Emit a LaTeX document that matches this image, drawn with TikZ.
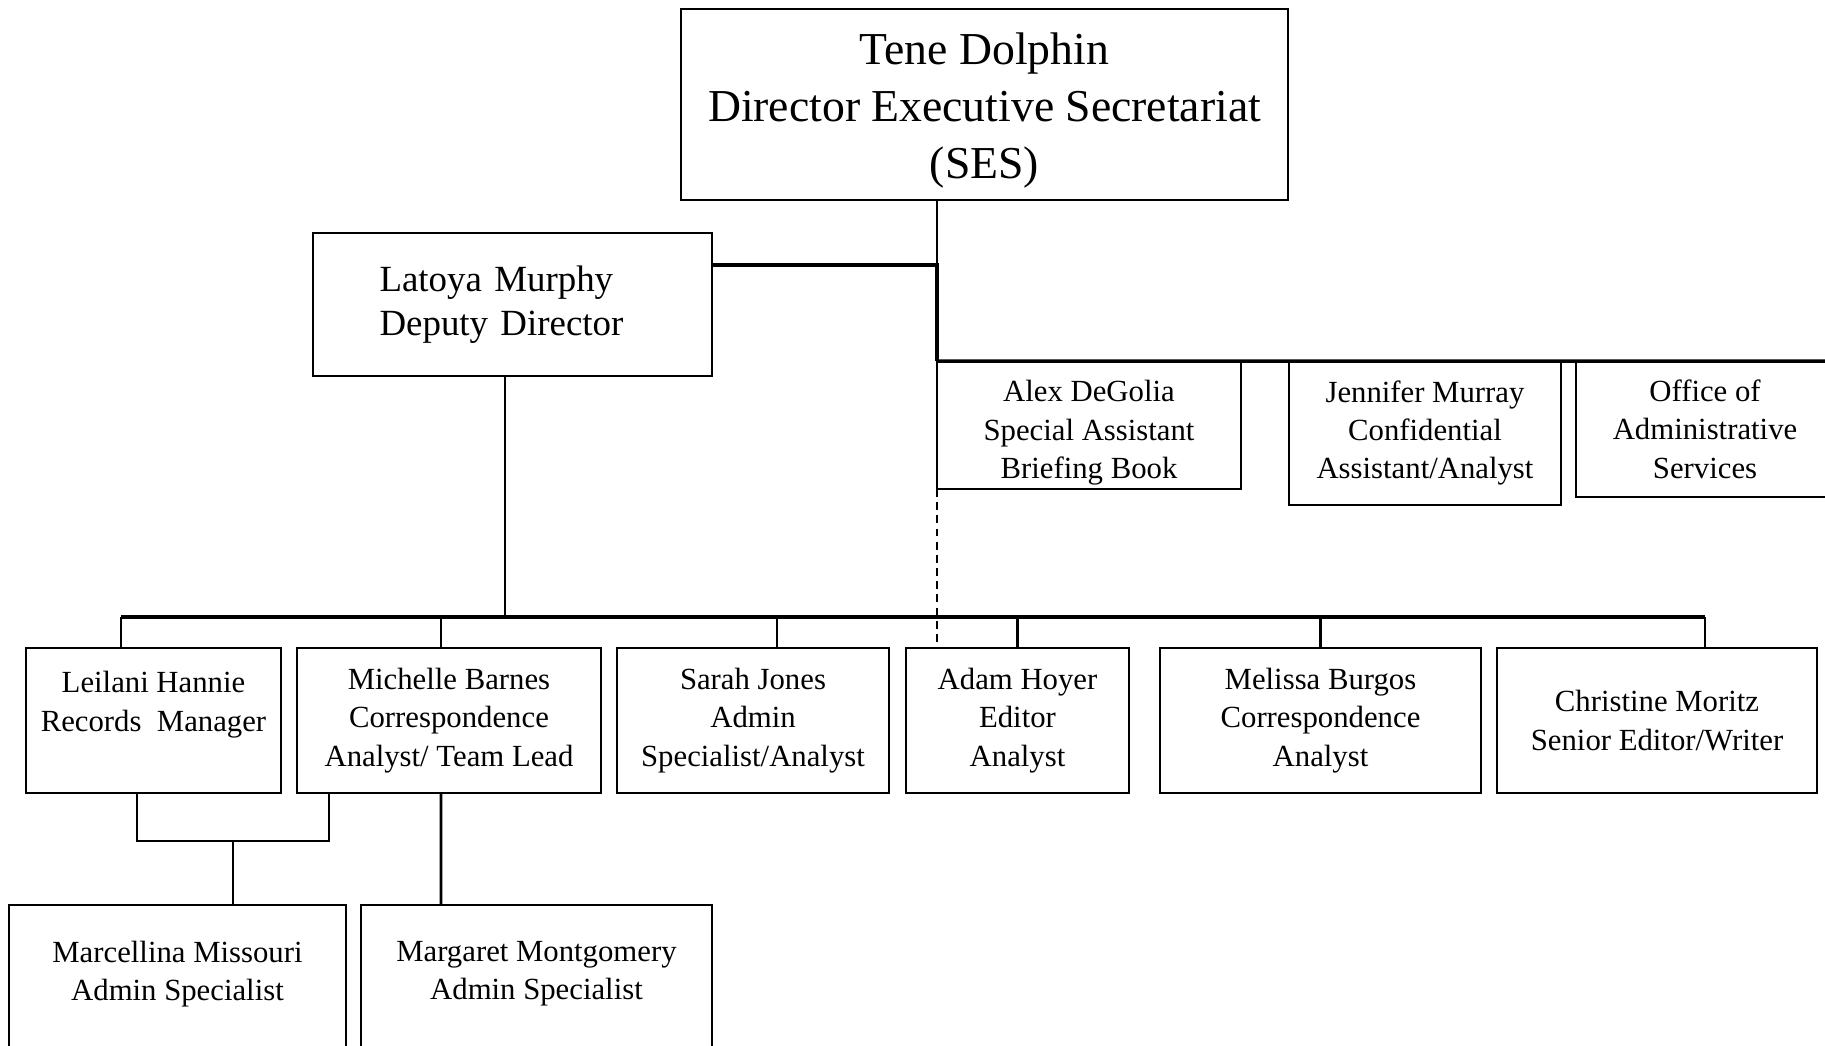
\documentclass[tikz,border=0pt]{standalone}
\usepackage{fontspec}
\setmainfont{Liberation Serif}

\begin{document}
\begin{tikzpicture}[x=0.02cm,y=-0.02cm,line width=1.6pt,
  post/.style={draw,line width=1.5pt,inner sep=2pt,outer sep=0pt,align=center,minimum height=2.9cm,font=\fontsize{17.5}{21.9}\selectfont},
  low/.style={post,anchor=north,inner ysep=0.72cm,text depth=4cm},
  bar/.style={line width=2pt}]

\useasboundingbox (0,0) rectangle (1825,1045);
\clip (0,0) rectangle (1825,1045);

\node[post,minimum width=12.14cm,minimum height=3.82cm,text height=89.5pt,font=\fontsize{26}{32.4}\selectfont] (tene) at (984.5,104.5) {Tene Dolphin\\Director Executive Secretariat\\(SES)};
\node[post,minimum width=7.98cm,minimum height=2.86cm,align=left,text width=5.32cm,font=\fontsize{21}{25}\selectfont] (deputy) at (512.5,304.5) {Latoya Murphy\\Deputy Director};

\node[post,minimum width=6.08cm,minimum height=2.56cm,text height=65pt] (alex) at (1089,425) {Alex DeGolia\\Special Assistant\\Briefing Book};
\node[post,minimum width=5.44cm,minimum height=2.88cm] (jennifer) at (1425,433) {Jennifer Murray\\Confidential\\Assistant/Analyst};
\node[post,minimum width=5.16cm,minimum height=2.72cm] (office) at (1705,429) {Office of\\Administrative\\Services};

\node[post,minimum width=5.10cm] (leilani) at (153.5,720.5) {Leilani Hannie\\Records~ Manager\\\mbox{}};
\node[post,minimum width=6.08cm] (michelle) at (449,720.5) {Michelle Barnes\\Correspondence\\Analyst/ Team Lead};
\node[post,minimum width=5.44cm] (sarah) at (753,720.5) {Sarah Jones\\Admin\\Specialist/Analyst};
\node[post,minimum width=4.46cm] (adam) at (1017.5,720.5) {Adam Hoyer\\Editor\\Analyst};
\node[post,minimum width=6.42cm] (melissa) at (1320.5,720.5) {Melissa Burgos\\Correspondence\\Analyst};
\node[post,minimum width=6.40cm] (christine) at (1657,720.5) {Christine Moritz\\Senior Editor/Writer};

\node[low,minimum width=6.74cm] (marcellina) at (177.5,905) {Marcellina Missouri\\Admin Specialist};
\node[low,minimum width=7.02cm] (margaret) at (536.5,905) {Margaret Montgomery\\Admin Specialist};

\draw (alex.north west |- tene.south) -- (alex.north west);
\draw[bar] ([yshift=0.79cm]deputy.east) -| (alex.north west);
\draw[bar] (alex.north west) -- (office.north east);
\draw[dash pattern=on 4.5pt off 3pt] (alex.south west) -- (alex.south west |- adam.north);

\coordinate (busL) at ([xshift=-0.65cm,yshift=0.62cm]leilani.north);
\coordinate (busR) at ([xshift=0.96cm,yshift=0.62cm]christine.north);
\coordinate (dd) at ([xshift=-0.15cm]deputy.south);
\draw (dd) -- (dd |- busL);
\draw[bar] (busL) -- (busR);
\foreach \n/\dx in {leilani/-0.65,michelle/-0.16,sarah/0.48,adam/0,melissa/0,christine/0.96}
  \draw ([xshift=\dx cm]\n.north) -- ([xshift=\dx cm,yshift=0.62cm]\n.north);

\draw ([xshift=-0.33cm]leilani.south) -- ++(0,-0.96cm) -| ([xshift=-2.4cm]michelle.south);
\draw ([xshift=1.11cm]marcellina.north) -- ++(0,1.28cm);
\draw ([xshift=-0.16cm]michelle.south) -- ([xshift=-1.91cm]margaret.north);

\end{tikzpicture}
\end{document}
